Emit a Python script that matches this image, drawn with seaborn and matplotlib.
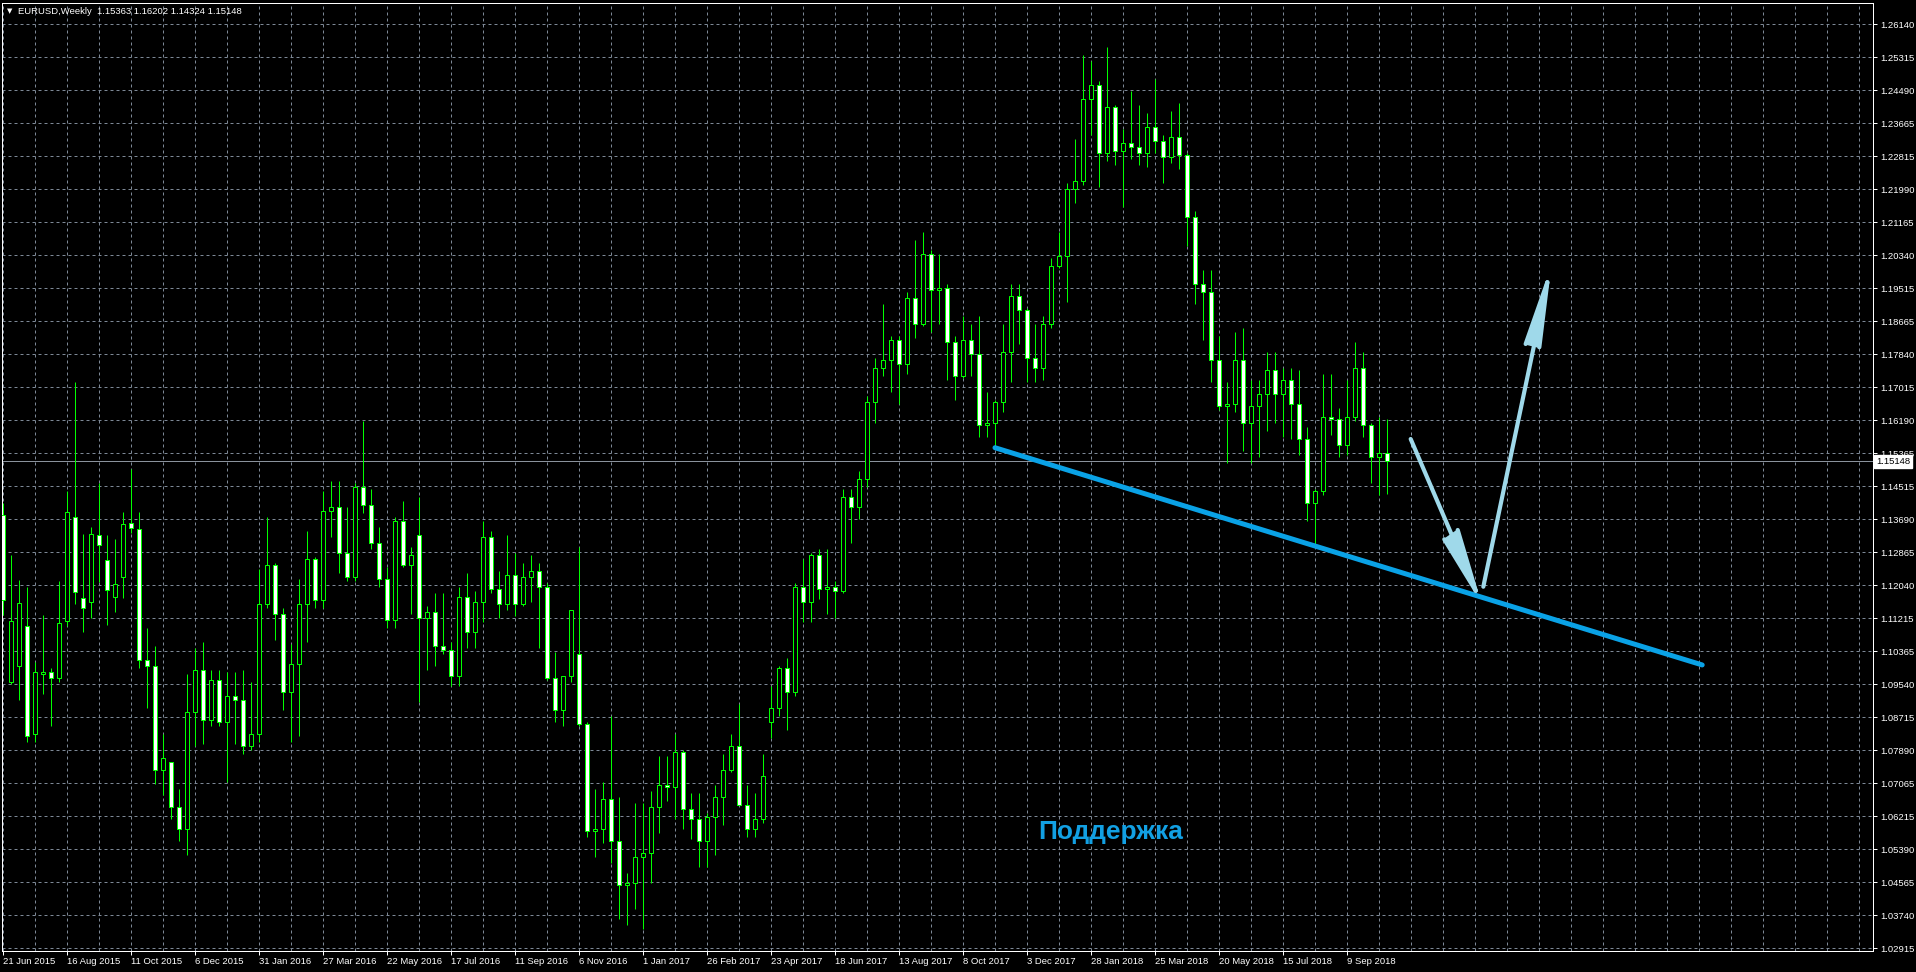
import numpy as np
import pandas as pd
import seaborn as sns
from matplotlib import pyplot as plt

# weekly EURUSD candles, Jun 2015 - Oct 2018
opens = [
    1.1380, 1.0960, 1.1000, 1.1100, 1.0830, 1.0980, 1.0985, 1.0970,
    1.1113, 1.1375, 1.1171, 1.1161, 1.1330, 1.1267, 1.1173, 1.1224,
    1.1360, 1.1345, 1.1015, 1.1000, 1.0740, 1.0760, 1.0645, 1.0590,
    1.0885, 1.0990, 1.0865, 1.0965, 1.0860, 1.0925, 1.0915, 1.0800,
    1.0830, 1.1155, 1.1255, 1.1130, 1.0935, 1.1005, 1.1155, 1.1270,
    1.1165, 1.1390, 1.1400, 1.1285, 1.1225, 1.1450, 1.1405, 1.1310,
    1.1220, 1.1115, 1.1365, 1.1255, 1.1330, 1.1120, 1.1135, 1.1050,
    1.1040, 1.0975, 1.1175, 1.1085, 1.1160, 1.1325, 1.1195, 1.1155,
    1.1230, 1.1155, 1.1225, 1.1240, 1.1200, 1.0970, 1.0890, 1.0975,
    1.1030, 1.0855, 1.0585, 1.0590, 1.0665, 1.0560, 1.0450, 1.0455,
    1.0520, 1.0530, 1.0645, 1.0700, 1.0695, 1.0785, 1.0640, 1.0615,
    1.0560, 1.0620, 1.0670, 1.0740, 1.0800, 1.0650, 1.0590, 1.0615,
    1.0860, 1.0895, 1.0995, 1.0935, 1.1200, 1.1160, 1.1280, 1.1195,
    1.1200, 1.1190, 1.1425, 1.1400, 1.1470, 1.1665, 1.1750, 1.1770,
    1.1820, 1.1760, 1.1925, 1.1860, 1.2035, 1.1945, 1.1950, 1.1815,
    1.1730, 1.1820, 1.1785, 1.1605, 1.1610, 1.1665, 1.1790, 1.1930,
    1.1895, 1.1775, 1.1750, 1.1860, 1.2005, 1.2030, 1.2200, 1.2220,
    1.2425, 1.2460, 1.2290, 1.2405, 1.2295, 1.2315, 1.2305, 1.2290,
    1.2355, 1.2320, 1.2280, 1.2330, 1.2285, 1.2130, 1.1960, 1.1940,
    1.1770, 1.1655, 1.1660, 1.1770, 1.1610, 1.1655, 1.1685, 1.1745,
    1.1685, 1.1720, 1.1660, 1.1570, 1.1410, 1.1440, 1.1625, 1.1620,
    1.1555, 1.1625, 1.1750, 1.1605, 1.1525, 1.15363,
]
highs = [
    1.1410, 1.1279, 1.1216, 1.1200, 1.1010, 1.1128, 1.0995, 1.1214,
    1.1440, 1.1714, 1.1332, 1.1350, 1.1460, 1.1330, 1.1320, 1.1387,
    1.1495, 1.1387, 1.1096, 1.1050, 1.0830, 1.0760, 1.0690, 1.0980,
    1.1045, 1.1060, 1.0990, 1.0990, 1.0985, 1.0985, 1.0990, 1.0960,
    1.1245, 1.1375, 1.1260, 1.1145, 1.1055, 1.1220, 1.1340, 1.1275,
    1.1440, 1.1465, 1.1465, 1.1400, 1.1460, 1.1615, 1.1445, 1.1350,
    1.1250, 1.1375, 1.1415, 1.1300, 1.1425, 1.1150, 1.1185, 1.1185,
    1.1060, 1.1200, 1.1235, 1.1190, 1.1365, 1.1340, 1.1240, 1.1330,
    1.1285, 1.1260, 1.1280, 1.1260, 1.1210, 1.1035, 1.0950, 1.1125,
    1.1300, 1.0860, 1.0690, 1.0710, 1.0875, 1.0670, 1.0480, 1.0655,
    1.0655, 1.0685, 1.0775, 1.0775, 1.0830, 1.0790, 1.0680, 1.0680,
    1.0630, 1.0700, 1.0780, 1.0830, 1.0905, 1.0700, 1.0680, 1.0780,
    1.0950, 1.1000, 1.1020, 1.1210, 1.1270, 1.1285, 1.1295, 1.1295,
    1.1215, 1.1445, 1.1445, 1.1490, 1.1680, 1.1775, 1.1910, 1.1830,
    1.1830, 1.1940, 1.2070, 1.2090, 1.2045, 1.2035, 1.1960, 1.1830,
    1.1880, 1.1860, 1.1880, 1.1690, 1.1670, 1.1860, 1.1960, 1.1960,
    1.1900, 1.1860, 1.1880, 1.2025, 1.2090, 1.2215, 1.2325, 1.2535,
    1.2520, 1.2470, 1.2555, 1.2410, 1.2350, 1.2445, 1.2410, 1.2390,
    1.2475, 1.2335, 1.2395, 1.2415, 1.2290, 1.2145, 1.1995, 1.1995,
    1.1830, 1.1715, 1.1840, 1.1850, 1.1720, 1.1720, 1.1790, 1.1790,
    1.1750, 1.1750, 1.1745, 1.1600, 1.1445, 1.1735, 1.1735, 1.1650,
    1.1720, 1.1815, 1.1790, 1.1610, 1.1625, 1.16202,
]
lows = [
    1.1128, 1.0955, 1.0915, 1.0810, 1.0810, 1.0930, 1.0850, 1.0960,
    1.1100, 1.1156, 1.1087, 1.1121, 1.1212, 1.1103, 1.1136, 1.1171,
    1.1335, 1.0996, 1.0895, 1.0705, 1.0675, 1.0615, 1.0560, 1.0525,
    1.0800, 1.0805, 1.0850, 1.0850, 1.0710, 1.0805, 1.0780, 1.0790,
    1.0810, 1.1145, 1.1065, 1.0890, 1.0810, 1.0825, 1.1060, 1.1145,
    1.1145, 1.1325, 1.1235, 1.1215, 1.1215, 1.1385, 1.1295, 1.1200,
    1.1095, 1.1095, 1.1250, 1.1130, 1.0910, 1.0990, 1.1000, 1.1030,
    1.0950, 1.0950, 1.1045, 1.1045, 1.1110, 1.1185, 1.1120, 1.1140,
    1.1125, 1.1150, 1.1160, 1.1045, 1.0965, 1.0860, 1.0850, 1.0960,
    1.0850, 1.0570, 1.0520, 1.0555, 1.0505, 1.0365, 1.0350, 1.0390,
    1.0340, 1.0455, 1.0580, 1.0660, 1.0615, 1.0590, 1.0565, 1.0495,
    1.0495, 1.0525, 1.0600, 1.0735, 1.0650, 1.0570, 1.0570, 1.0605,
    1.0820, 1.0875, 1.0840, 1.0925, 1.1110, 1.1110, 1.1170, 1.1130,
    1.1120, 1.1185, 1.1310, 1.1370, 1.1450, 1.1610, 1.1730, 1.1690,
    1.1660, 1.1735, 1.1825, 1.1855, 1.1840, 1.1860, 1.1720, 1.1670,
    1.1725, 1.1730, 1.1575, 1.1575, 1.1555, 1.1640, 1.1715, 1.1810,
    1.1715, 1.1715, 1.1720, 1.1850, 1.2000, 1.1915, 1.2165, 1.2210,
    1.2335, 1.2205, 1.2270, 1.2260, 1.2155, 1.2275, 1.2260, 1.2255,
    1.2290, 1.2215, 1.2265, 1.2250, 1.2055, 1.1910, 1.1820, 1.1715,
    1.1645, 1.1510, 1.1640, 1.1540, 1.1510, 1.1525, 1.1590, 1.1610,
    1.1575, 1.1570, 1.1530, 1.1365, 1.1300, 1.1430, 1.1580, 1.1525,
    1.1530, 1.1615, 1.1575, 1.1460, 1.1430, 1.14324,
]
closes = [
    1.1166, 1.1113, 1.1159, 1.0825, 1.0985, 1.0985, 1.0970, 1.1108,
    1.1387, 1.1186, 1.1146, 1.1332, 1.1305, 1.1191, 1.1206, 1.1357,
    1.1347, 1.1015, 1.1000, 1.0740, 1.0770, 1.0645, 1.0590, 1.0885,
    1.0990, 1.0865, 1.0965, 1.0860, 1.0925, 1.0915, 1.0800, 1.0830,
    1.1155, 1.1255, 1.1130, 1.0935, 1.1005, 1.1155, 1.1270, 1.1165,
    1.1390, 1.1400, 1.1285, 1.1225, 1.1450, 1.1405, 1.1310, 1.1220,
    1.1115, 1.1365, 1.1255, 1.1280, 1.1120, 1.1135, 1.1050, 1.1040,
    1.0975, 1.1175, 1.1085, 1.1160, 1.1325, 1.1195, 1.1155, 1.1230,
    1.1155, 1.1225, 1.1240, 1.1200, 1.0970, 1.0890, 1.0975, 1.1140,
    1.0855, 1.0585, 1.0590, 1.0665, 1.0560, 1.0450, 1.0455, 1.0520,
    1.0530, 1.0645, 1.0700, 1.0695, 1.0785, 1.0640, 1.0615, 1.0560,
    1.0620, 1.0670, 1.0740, 1.0800, 1.0650, 1.0590, 1.0615, 1.0725,
    1.0895, 1.0995, 1.0935, 1.1200, 1.1160, 1.1280, 1.1195, 1.1200,
    1.1190, 1.1425, 1.1400, 1.1470, 1.1665, 1.1750, 1.1770, 1.1820,
    1.1760, 1.1925, 1.1860, 1.2035, 1.1945, 1.1950, 1.1815, 1.1730,
    1.1820, 1.1785, 1.1605, 1.1610, 1.1665, 1.1790, 1.1930, 1.1895,
    1.1775, 1.1750, 1.1860, 1.2005, 1.2030, 1.2200, 1.2220, 1.2425,
    1.2460, 1.2290, 1.2405, 1.2295, 1.2315, 1.2305, 1.2290, 1.2355,
    1.2320, 1.2280, 1.2330, 1.2285, 1.2130, 1.1960, 1.1940, 1.1770,
    1.1655, 1.1660, 1.1770, 1.1610, 1.1655, 1.1685, 1.1745, 1.1685,
    1.1720, 1.1660, 1.1570, 1.1410, 1.1440, 1.1625, 1.1620, 1.1555,
    1.1625, 1.1750, 1.1605, 1.1525, 1.1536, 1.15148,
]

date_labels = [
    "21 Jun 2015", "16 Aug 2015", "11 Oct 2015", "6 Dec 2015", "31 Jan 2016",
    "27 Mar 2016", "22 May 2016", "17 Jul 2016", "11 Sep 2016", "6 Nov 2016",
    "1 Jan 2017", "26 Feb 2017", "23 Apr 2017", "18 Jun 2017", "13 Aug 2017",
    "8 Oct 2017", "3 Dec 2017", "28 Jan 2018", "25 Mar 2018", "20 May 2018",
    "15 Jul 2018", "9 Sep 2018",
]
# bottom to top
price_labels = [
    "1.02915", "1.03740", "1.04565", "1.05390", "1.06215", "1.07065", "1.07890",
    "1.08715", "1.09540", "1.10365", "1.11215", "1.12040", "1.12865", "1.13690",
    "1.14515", "1.15365", "1.16190", "1.17015", "1.17840", "1.18665", "1.19515",
    "1.20340", "1.21165", "1.21990", "1.22815", "1.23665", "1.24490", "1.25315",
    "1.26140",
]
last_price = 1.15148
header = "EURUSD,Weekly  1.15363 1.16202 1.14324 1.15148"

# drawn objects (bar index, price)
support_x = [124.0, 212.4]
support_y = [1.1549, 1.1003]
arrow_down_x = [175.96, 184.09]
arrow_down_y = [1.15709, 1.11896]
arrow_down_wing_x = [180.16, 181.84]
arrow_down_wing_y = [1.13188, 1.13422]
arrow_up_x = [185.04, 193.04]
arrow_up_y = [1.11996, 1.19647]
arrow_up_wing_x = [190.33, 192.04]
arrow_up_wing_y = [1.18097, 1.18014]
label_text = "Поддержка"
label_pos = (129.4, 1.0565)

GREEN = "#00ff00"
GRID = "#7d8896"
SUPPORT = "#0aa2e6"
ARROW = "#9fd9ea"
PX = 0.72  # one pixel in points at dpi 100


def draw_arrow(ax, xs, ys, wx, wy):
    ax.plot(xs, ys, color=ARROW, lw=3.0, solid_capstyle="round", zorder=6)
    ax.fill([xs[1], wx[0], wx[1]], [ys[1], wy[0], wy[1]], color=ARROW, zorder=6)
    for x0, y0 in zip(wx, wy):
        ax.plot([x0, xs[1]], [y0, ys[1]], color=ARROW, lw=3.0,
                solid_capstyle="round", zorder=6)


def main():
    sns.set_style("dark", {"axes.facecolor": "black", "figure.facecolor": "black",
                           "axes.edgecolor": "white", "grid.color": GRID})
    plt.rcParams["font.family"] = ["Liberation Sans", "DejaVu Sans"]

    df = pd.DataFrame({"open": opens, "high": highs, "low": lows, "close": closes})
    df["idx"] = np.arange(len(df))
    df["bull"] = df["close"] >= df["open"]

    fig = plt.figure(figsize=(19.16, 9.72), dpi=100)
    ax = fig.add_axes([2 / 1916, 21 / 972, 1871 / 1916, 948 / 972])

    # candles
    ax.vlines(df["idx"], df["low"], df["high"], colors=GREEN, lw=PX, zorder=2)
    body = np.maximum((df["close"] - df["open"]).abs(), 0.00006)
    fills = np.where(df["bull"], "black", "white")
    ax.bar(df["idx"], body, bottom=df[["open", "close"]].min(axis=1), width=0.5,
           color=fills, edgecolor=GREEN, linewidth=PX, zorder=3)

    # current price line
    ax.axhline(last_price, color="#8a929c", lw=PX, zorder=1.5)
    ax.annotate(f"{last_price:.5f}", xy=(1, last_price),
                xycoords=("axes fraction", "data"), xytext=(2.3, 0),
                textcoords="offset points", va="center", ha="left",
                fontsize=6.8, color="black", annotation_clip=False,
                bbox=dict(boxstyle="square,pad=0.18", fc="white", ec="white"))

    # support line + arrows + label
    sns.lineplot(x=support_x, y=support_y, ax=ax, color=SUPPORT, linewidth=3.6,
                 solid_capstyle="round", zorder=5)
    draw_arrow(ax, arrow_down_x, arrow_down_y, arrow_down_wing_x, arrow_down_wing_y)
    draw_arrow(ax, arrow_up_x, arrow_up_y, arrow_up_wing_x, arrow_up_wing_y)
    ax.text(label_pos[0], label_pos[1], label_text, color="#12a0e3",
            fontsize=19, fontweight="bold", va="baseline", ha="left", zorder=6)

    # axes
    ax.set_xlim(-0.125, 233.75)
    ax.set_ylim(1.02840, 1.26668)
    ax.set_xticks(np.arange(0, 8 * len(date_labels), 8))
    ax.set_xticklabels(date_labels)
    ax.set_xticks(np.arange(0, 234, 4), minor=True)
    ax.yaxis.tick_right()
    ax.set_yticks(np.linspace(1.02915, 1.26140, len(price_labels)))
    ax.set_yticklabels(price_labels)

    ax.tick_params(axis="x", which="major", bottom=True, colors="white",
                   length=3, width=PX, pad=1.5, labelsize=6.8)
    ax.tick_params(axis="x", which="minor", length=0)
    ax.tick_params(axis="y", right=True, left=False, labelright=True,
                   labelleft=False, colors="white", length=3, width=PX,
                   pad=2.5, labelsize=6.8)
    for t in ax.get_xticklabels():
        t.set_horizontalalignment("left")

    ax.grid(False)
    ax.grid(True, axis="x", which="both", color=GRID, linestyle=(0, (3, 3)), linewidth=PX)
    ax.grid(True, axis="y", which="major", color=GRID, linestyle=(0, (3, 3)), linewidth=PX)
    ax.set_axisbelow(True)
    for s in ax.spines.values():
        s.set_color("white")
        s.set_linewidth(PX)
    ax.set_xlabel("")
    ax.set_ylabel("")

    fig.text(7 / 1916, 1 - 11 / 972, "▼", color="white", fontsize=5,
             va="center", ha="left", family=["DejaVu Sans"])
    fig.text(18 / 1916, 1 - 11 / 972, header, color="white", fontsize=6.8,
             va="center", ha="left")

    fig.savefig("out.png", dpi=100, facecolor="black")


if __name__ == "__main__":
    main()
